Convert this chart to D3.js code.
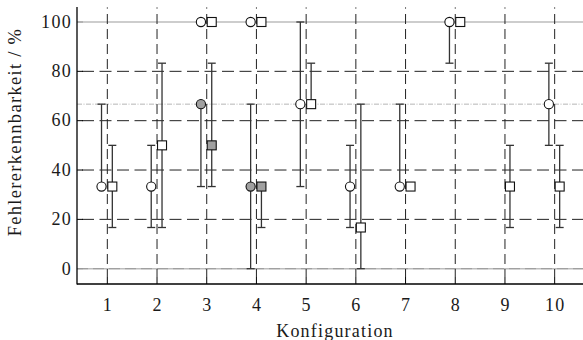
<!DOCTYPE html>
<html><head><meta charset="utf-8">
<script src="https://cdn.jsdelivr.net/npm/d3@7"></script>
<style>body{margin:0;background:#fff}svg{display:block}text{font-family:"Liberation Serif","Times New Roman",Times,serif;fill:#1a1a1a}</style>
</head><body>
<svg id="c" width="583" height="340"></svg>
<script>
// ---- data ----
const categories = [1,2,3,4,5,6,7,8,9,10];
const yTicks = [0,20,40,60,80,100];
// open circles
const circleVal = [33.3, 33.3, 100, 100, 66.7, 33.3, 33.3, 100, null, 66.7];
const circleLo  = [33.3, 16.7, null, null, 33.3, 16.7, 33.3, 83.3, null, 50];
const circleHi  = [66.7, 50,   null, null, 100,  50,   66.7, 100,  null, 83.3];
// open squares
const squareVal = [33.3, 50,   100, 100, 66.7, 16.7, 33.3, 100, 33.3, 33.3];
const squareLo  = [16.7, 16.7, null, null, 66.7, 0,   null, null, 16.7, 16.7];
const squareHi  = [50,   83.3, null, null, 83.3, 66.7, null, null, 50,  50];
// filled (grey) circles / squares
const circleFilledCat = [3, 4];
const circleFilledVal = [66.7, 33.3];
const circleFilledLo  = [33.3, 0];
const circleFilledHi  = [66.7, 66.7];
const squareFilledCat = [3, 4];
const squareFilledVal = [50, 33.3];
const squareFilledLo  = [33.3, 16.7];
const squareFilledHi  = [83.3, 33.3];
const refLine = 66.7;

// ---- layout ----
const L = 77, R = 583, T = 7, B = 284;
const x = d3.scaleLinear().domain([0.39, 10.57]).range([L, R]);
const y = d3.scaleLinear().domain([0, 100]).range([268.7, 22]);
const cOff = -5.8, sOff = 5;
const svg = d3.select("#c");

// reference lines at 0 and 100
svg.selectAll("line.ref").data([0, 100]).join("line")
  .attr("x1", L).attr("x2", R).attr("y1", d => y(d)).attr("y2", d => y(d))
  .attr("stroke", "#bdbdbd").attr("stroke-width", 1.6);
svg.append("line").attr("x1", L).attr("x2", R).attr("y1", y(0)).attr("y2", y(0))
  .attr("stroke", "#999").attr("stroke-width", 1).attr("stroke-dasharray", "11,5");
// dash-dot line
svg.append("line").attr("x1", L).attr("x2", R).attr("y1", y(refLine)).attr("y2", y(refLine))
  .attr("stroke", "#b5b5b5").attr("stroke-width", 1).attr("stroke-dasharray", "5,1.5,1,1.5");
// horizontal dashed grid
svg.selectAll("line.hg").data([20,40,60,80]).join("line")
  .attr("x1", L + 5).attr("x2", R).attr("y1", d => y(d)).attr("y2", d => y(d))
  .attr("stroke", "#222").attr("stroke-width", 1).attr("stroke-dasharray", "12,5.5");
// vertical dashed grid
svg.selectAll("line.vg").data(categories).join("line")
  .attr("x1", d => x(d)).attr("x2", d => x(d)).attr("y1", T + 7).attr("y2", B - 7)
  .attr("stroke", "#222").attr("stroke-width", 1).attr("stroke-dasharray", "10,5");
// bottom ticks (inward)
svg.selectAll("line.bt").data(categories).join("line")
  .attr("x1", d => x(d)).attr("x2", d => x(d)).attr("y1", B).attr("y2", B - 7)
  .attr("stroke", "#000").attr("stroke-width", 1);
// top ticks
svg.selectAll("line.tt").data(categories).join("line")
  .attr("x1", d => x(d)).attr("x2", d => x(d)).attr("y1", T).attr("y2", T + 2)
  .attr("stroke", "#777").attr("stroke-width", 1);
// left ticks
svg.selectAll("line.lt").data(yTicks).join("line")
  .attr("x1", L).attr("x2", L + 6).attr("y1", d => y(d)).attr("y2", d => y(d))
  .attr("stroke", d => (d === 0 || d === 100) ? "#999" : "#000").attr("stroke-width", 1);

// axes lines
svg.append("line").attr("x1", L).attr("x2", L).attr("y1", T).attr("y2", B + 0.5)
  .attr("stroke", "#000").attr("stroke-width", 1.3);
svg.append("line").attr("x1", L).attr("x2", R).attr("y1", B).attr("y2", B)
  .attr("stroke", "#000").attr("stroke-width", 1.3);

// tick labels
svg.selectAll("text.yl").data(yTicks).join("text")
  .attr("x", 72).attr("y", d => y(d) + 5.8).attr("text-anchor", "end")
  .attr("font-size", 18).attr("letter-spacing", 1.3)
  .text(d => d);
svg.selectAll("text.xl").data(categories).join("text")
  .attr("x", d => x(d) + 0.6).attr("y", 310.5).attr("text-anchor", "middle")
  .attr("font-size", 18).attr("letter-spacing", 1.3)
  .text(d => d);
// titles
svg.append("text").attr("x", 335).attr("y", 336.5).attr("text-anchor", "middle")
  .attr("font-size", 18).attr("letter-spacing", 1.2)
  .text("Konfiguration");
svg.append("text").attr("transform", "translate(20.5,132) rotate(-90)").attr("text-anchor", "middle")
  .attr("font-size", 18.5).attr("letter-spacing", 1.3)
  .text("Fehlererkennbarkeit / %");

// ---- error bars & markers ----
function errBars(cats, lo, hi, off) {
  const d = cats.map((c, i) => ({c, lo: lo[i], hi: hi[i]})).filter(e => e.lo != null && e.hi != null);
  const g = svg.append("g").attr("stroke", "#333").attr("stroke-width", 1.3);
  g.selectAll("line.v").data(d).join("line")
    .attr("x1", e => x(e.c) + off).attr("x2", e => x(e.c) + off)
    .attr("y1", e => y(e.lo)).attr("y2", e => y(e.hi));
  ["lo", "hi"].forEach(k => {
    g.selectAll("line.c" + k).data(d).join("line")
      .attr("x1", e => x(e.c) + off - 4).attr("x2", e => x(e.c) + off + 4)
      .attr("y1", e => y(e[k])).attr("y2", e => y(e[k]));
  });
}
function circles(cats, vals, off, fill) {
  const d = cats.map((c, i) => ({c, v: vals[i]})).filter(e => e.v != null);
  svg.append("g").selectAll("circle").data(d).join("circle")
    .attr("cx", e => x(e.c) + off).attr("cy", e => y(e.v)).attr("r", 4.6)
    .attr("fill", fill).attr("stroke", "#111").attr("stroke-width", 1.1);
}
function squares(cats, vals, off, fill) {
  const d = cats.map((c, i) => ({c, v: vals[i]})).filter(e => e.v != null);
  svg.append("g").selectAll("rect").data(d).join("rect")
    .attr("x", e => x(e.c) + off - 4.5).attr("y", e => y(e.v) - 4.5)
    .attr("width", 9).attr("height", 9)
    .attr("fill", fill).attr("stroke", "#111").attr("stroke-width", 1.1);
}
errBars(categories, circleLo, circleHi, cOff);
errBars(categories, squareLo, squareHi, sOff);
errBars(circleFilledCat, circleFilledLo, circleFilledHi, cOff);
errBars(squareFilledCat, squareFilledLo, squareFilledHi, sOff);
circles(categories, circleVal, cOff, "#fff");
squares(categories, squareVal, sOff, "#fff");
circles(circleFilledCat, circleFilledVal, cOff, "#a0a0a0");
squares(squareFilledCat, squareFilledVal, sOff, "#a0a0a0");
</script>
</body></html>
